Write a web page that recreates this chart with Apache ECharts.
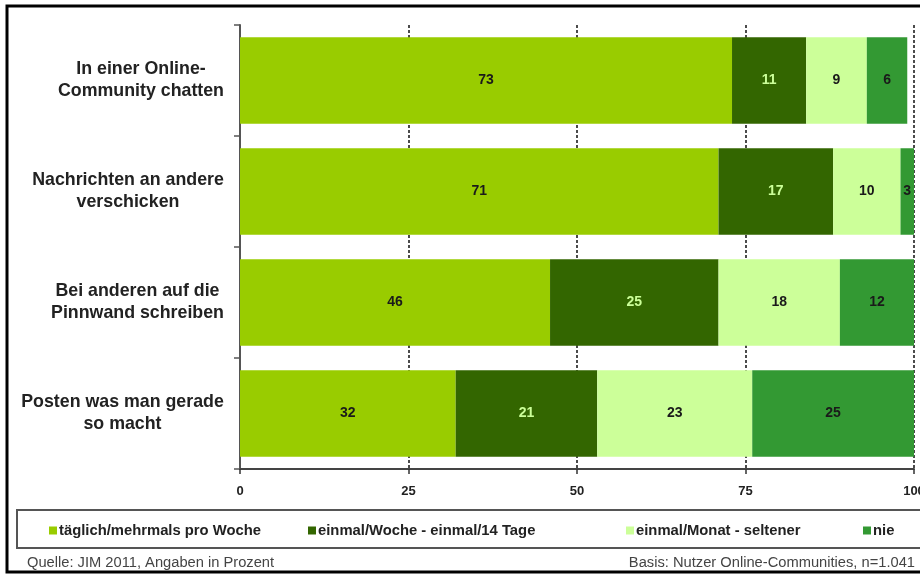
<!DOCTYPE html>
<html>
<head>
<meta charset="utf-8">
<script src="https://cdn.jsdelivr.net/npm/echarts@6/dist/echarts.min.js"></script>
<style>
  html, body { margin: 0; padding: 0; background: #ffffff; }
  #chart { width: 920px; height: 574px; }
</style>
</head>
<body>
<div id="chart"></div>
<script>
// Activities in online communities, frequency shares in percent
const categories = [
  'In einer Online-\nCommunity chatten',
  'Nachrichten an andere\nverschicken',
  'Bei anderen auf die\nPinnwand schreiben',
  'Posten was man gerade\nso macht'
];
const seriesNames = [
  'täglich/mehrmals pro Woche',
  'einmal/Woche - einmal/14 Tage',
  'einmal/Monat - seltener',
  'nie'
];
const daily = [73, 71, 46, 32];
const weekly = [11, 17, 25, 21];
const monthly = [9, 10, 18, 23];
const never = [6, 3, 12, 25];
const xTicks = [0, 25, 50, 75, 100];
const sourceNote = 'Quelle: JIM 2011, Angaben in Prozent';
const baseNote = 'Basis: Nutzer Online-Communities, n=1.041';

const FONT = '"Liberation Sans", Arial, Helvetica, sans-serif';
const colors = ['#99CC00', '#336600', '#CCFF99', '#339933'];
const labelColors = ['#1a1a1a', '#CCFF99', '#1a1a1a', '#1a1a1a'];
const seriesValues = [daily, weekly, monthly, never];

// Category labels: block right-aligned at the axis, lines centered inside the block
const CAT_SIZE = 17.8;
const measure = document.createElement('canvas').getContext('2d');
measure.font = 'bold ' + CAT_SIZE + 'px ' + FONT;
const catRich = {};
categories.forEach((c, i) => {
  const w = Math.max(...c.split('\n').map(l => measure.measureText(l).width));
  catRich['c' + i] = {
    width: Math.ceil(w), align: 'center',
    fontSize: CAT_SIZE, fontWeight: 'bold', fontFamily: FONT,
    color: '#222222', lineHeight: 22
  };
});

const chart = echarts.init(document.getElementById('chart'), null, { renderer: 'canvas' });

const legendLeft = [49, 308, 626, 863];

chart.setOption({
  animation: false,
  backgroundColor: '#ffffff',
  grid: { left: 240, right: 6, top: 25, bottom: 105, containLabel: false, outerBoundsMode: 'none' },
  xAxis: {
    type: 'value',
    min: xTicks[0],
    max: xTicks[xTicks.length - 1],
    interval: xTicks[1] - xTicks[0],
    axisLine: { show: true, lineStyle: { color: '#444444', width: 2 } },
    axisTick: { show: true, length: 5, lineStyle: { color: '#333333', width: 1.5 } },
    axisLabel: {
      margin: 16,
      fontFamily: FONT, fontSize: 13, fontWeight: 'bold', color: '#222222'
    },
    splitLine: { show: true, lineStyle: { color: '#111111', width: 1.5, type: [3, 2] } }
  },
  yAxis: {
    type: 'category',
    inverse: true,
    data: categories,
    axisLine: { show: true, lineStyle: { color: '#555555', width: 2 } },
    axisTick: { show: true, length: 6, lineStyle: { color: '#555555', width: 1.5 } },
    axisLabel: {
      margin: 16,
      formatter: (value, index) => value.split('\n').map(l => '{c' + index + '|' + l + '}').join('\n'),
      rich: catRich
    }
  },
  legend: seriesNames.map((n, i) => ({
    data: [n],
    left: legendLeft[i],
    top: 523,
    padding: 0,
    itemWidth: 8,
    itemHeight: 8,
    icon: 'rect',
    selectedMode: false,
    textStyle: {
      fontFamily: FONT, fontSize: 14.8, fontWeight: 'bold', color: '#222222',
      padding: [0, 0, 0, -3]
    }
  })),
  graphic: [
    { type: 'rect', z: -1, shape: { x: 7, y: 6, width: 940, height: 566 },
      style: { fill: 'none', stroke: '#000000', lineWidth: 3 } },
    { type: 'rect', shape: { x: 17, y: 510, width: 940, height: 38 },
      style: { fill: 'none', stroke: '#555555', lineWidth: 2 } },
    { type: 'text', left: 27, top: 555,
      style: { text: sourceNote, fontFamily: FONT, fontSize: 14.7, fill: '#444444' } },
    { type: 'text', right: 5, top: 555,
      style: { text: baseNote, fontFamily: FONT, fontSize: 14.7, fill: '#444444', align: 'right' } }
  ],
  series: seriesNames.map((n, i) => ({
    name: n,
    type: 'bar',
    stack: 'total',
    barCategoryGap: '22%',
    clip: true,
    data: seriesValues[i],
    itemStyle: { color: colors[i] },
    label: {
      show: true,
      position: 'inside',
      fontFamily: FONT, fontSize: 14, fontWeight: 'bold',
      color: labelColors[i]
    }
  }))
});
</script>
</body>
</html>
